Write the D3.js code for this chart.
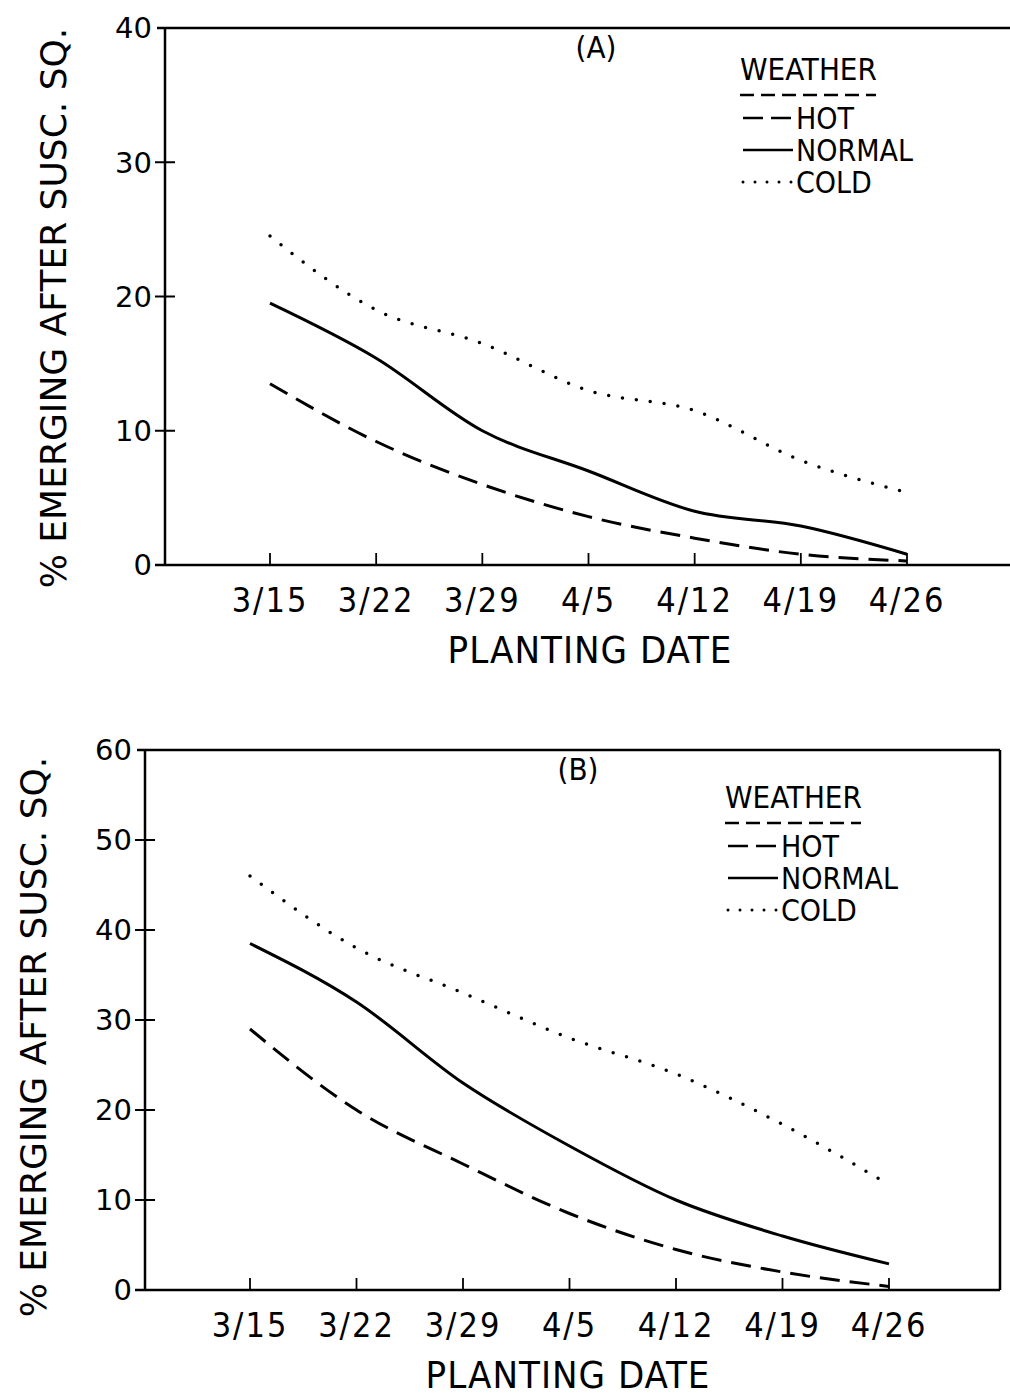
<!DOCTYPE html>
<html>
<head>
<meta charset="utf-8">
<script src="https://cdn.jsdelivr.net/npm/d3@7"></script>
<style>
  body { margin: 0; background: #fff; }
  text { fill: #000; }
</style>
</head>
<body>
<div id="chart"></div>
<script>
// planting dates on the x axis
var dates = ["3/15", "3/22", "3/29", "4/5", "4/12", "4/19", "4/26"];
var weather = ["HOT", "NORMAL", "COLD"];

// panel A values (% emerging after susc. sq.)
var hotA    = [13.5, 9.2, 6.0, 3.6, 2.0, 0.8, 0.3];
var normalA = [19.5, 15.4, 10.0, 7.0, 4.0, 2.9, 0.8];
var coldA   = [24.5, 19.0, 16.5, 13.0, 11.5, 7.8, 5.4];

// panel B values
var hotB    = [29.0, 20.0, 14.0, 8.5, 4.5, 2.0, 0.4];
var normalB = [38.5, 32.0, 23.0, 16.0, 10.0, 6.0, 2.9];
var coldB   = [46.0, 38.0, 33.0, 28.0, 24.0, 18.4, 11.7];

var ticksA = [0, 10, 20, 30, 40];
var ticksB = [0, 10, 20, 30, 40, 50, 60];

var W = 1010, H = 1397;
var svg = d3.select("#chart").append("svg")
  .attr("width", W)
  .attr("height", H);

var styles = {
  HOT:    {dash: "20 10", cap: "butt"},
  NORMAL: {dash: null, cap: "butt"},
  COLD:   {dash: "0 14", cap: "round"}
};

var drawPanel = function(cfg) {
  var g = svg.append("g");

  var x = d3.scalePoint()
    .domain(dates)
    .range([cfg.x0, cfg.x1]);

  var y = d3.scaleLinear()
    .domain([0, cfg.ymax])
    .range([cfg.bottom, cfg.top]);

  // frame: left axis, top line, bottom axis, optional right border
  g.append("line")
    .attr("x1", cfg.left).attr("x2", cfg.left)
    .attr("y1", cfg.top).attr("y2", cfg.bottom)
    .attr("stroke", "#000").attr("stroke-width", 2.5);
  g.append("line")
    .attr("x1", cfg.left - 8).attr("x2", cfg.right)
    .attr("y1", cfg.top).attr("y2", cfg.top)
    .attr("stroke", "#000").attr("stroke-width", 2.5);
  g.append("line")
    .attr("x1", cfg.left - 10).attr("x2", cfg.right)
    .attr("y1", cfg.bottom).attr("y2", cfg.bottom)
    .attr("stroke", "#000").attr("stroke-width", 2.5);
  if (cfg.rightBorder) {
    g.append("line")
      .attr("x1", cfg.right).attr("x2", cfg.right)
      .attr("y1", cfg.top).attr("y2", cfg.bottom)
      .attr("stroke", "#000").attr("stroke-width", 2.5);
  }

  // y ticks crossing the axis
  g.selectAll(".yt")
    .data(cfg.yticks.filter(function(d) { return d > 0 && d < cfg.ymax; }))
    .enter().append("line")
      .attr("x1", cfg.left - 10).attr("x2", cfg.left + 10)
      .attr("y1", function(d) { return y(d); })
      .attr("y2", function(d) { return y(d); })
      .attr("stroke", "#000").attr("stroke-width", 2);

  g.selectAll(".yl")
    .data(cfg.yticks)
    .enter().append("text")
      .attr("x", cfg.left - 13)
      .attr("y", function(d) { return y(d); })
      .attr("dy", "0.36em")
      .attr("text-anchor", "end")
      .style("font-family", "DejaVu Sans")
      .style("font-size", "29px")
      .text(function(d) { return d; });

  // x ticks pointing up
  g.selectAll(".xt")
    .data(dates)
    .enter().append("line")
      .attr("x1", function(d) { return x(d); })
      .attr("x2", function(d) { return x(d); })
      .attr("y1", cfg.bottom).attr("y2", cfg.bottom - 12)
      .attr("stroke", "#000").attr("stroke-width", 1.8);

  g.selectAll(".xl")
    .data(dates)
    .enter().append("text")
      .attr("x", function(d) { return x(d); })
      .attr("y", cfg.bottom + 47)
      .attr("text-anchor", "middle")
      .style("font-family", "DejaVu Sans Condensed")
      .style("font-size", "34px")
      .style("letter-spacing", "2px")
      .text(function(d) { return d; });

  g.append("text")
    .attr("x", cfg.titleX)
    .attr("y", cfg.bottom + 98)
    .attr("text-anchor", "middle")
    .style("font-family", "DejaVu Sans Condensed")
    .style("font-size", "38px")
    .style("letter-spacing", "1px")
    .text("PLANTING DATE");

  g.append("text")
    .attr("transform", "translate(" + cfg.ylabX + "," + cfg.ylabY + ") rotate(-90)")
    .attr("text-anchor", "middle")
    .style("font-family", "DejaVu Sans")
    .style("font-size", "36px")
    .text("% EMERGING AFTER SUSC. SQ.");

  // series
  var line = d3.line()
    .curve(d3.curveMonotoneX)
    .x(function(d, i) { return x(dates[i]); })
    .y(function(d) { return y(d); });

  cfg.series.forEach(function(s, i) {
    var st = styles[weather[i]];
    g.append("path")
      .datum(s)
      .attr("fill", "none")
      .attr("stroke", "#000")
      .attr("stroke-width", weather[i] == "COLD" ? 3.5 : 3)
      .attr("stroke-linecap", st.cap)
      .attr("stroke-dasharray", st.dash)
      .attr("d", line);
  });

  // panel letter
  g.append("text")
    .attr("x", cfg.letterX).attr("y", cfg.top + 30)
    .attr("text-anchor", "middle")
    .style("font-family", "DejaVu Sans Condensed")
    .style("font-size", "31px")
    .text(cfg.letter);

  // legend
  var lx = cfg.legX, ly = cfg.legY;
  g.append("text")
    .attr("x", lx).attr("y", ly)
    .style("font-family", "DejaVu Sans Condensed")
    .style("font-size", "31px")
    .text("WEATHER");
  g.append("line")
    .attr("x1", lx).attr("x2", lx + 136)
    .attr("y1", ly + 15).attr("y2", ly + 15)
    .attr("stroke", "#000").attr("stroke-width", 2.5)
    .attr("stroke-dasharray", "14 7");

  weather.forEach(function(w, i) {
    var yy = ly + 49 + i * 32;
    var st = styles[w];
    g.append("line")
      .attr("x1", lx + 3).attr("x2", lx + 53)
      .attr("y1", yy - 11).attr("y2", yy - 11)
      .attr("stroke", "#000")
      .attr("stroke-width", w == "COLD" ? 3 : 2.5)
      .attr("stroke-linecap", st.cap)
      .attr("stroke-dasharray", w == "HOT" ? "20 8" : (w == "COLD" ? "0 12" : null));
    g.append("text")
      .attr("x", lx + 56).attr("y", yy)
      .style("font-family", "DejaVu Sans Condensed")
      .style("font-size", "30px")
      .text(w);
  });
};

drawPanel({
  left: 165, right: 1010, top: 28, bottom: 565,
  x0: 270, x1: 907, ymax: 40, yticks: ticksA,
  rightBorder: false,
  series: [hotA, normalA, coldA],
  letter: "(A)", letterX: 596,
  legX: 740, legY: 80,
  titleX: 590, ylabX: 66, ylabY: 308
});

drawPanel({
  left: 145, right: 1000, top: 750, bottom: 1290,
  x0: 250, x1: 889, ymax: 60, yticks: ticksB,
  rightBorder: true,
  series: [hotB, normalB, coldB],
  letter: "(B)", letterX: 578,
  legX: 725, legY: 808,
  titleX: 568, ylabX: 46, ylabY: 1037
});
</script>
</body>
</html>
